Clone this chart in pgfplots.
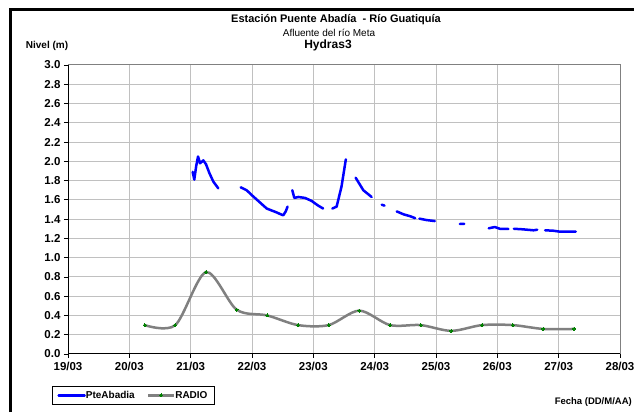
\documentclass[border=0pt]{standalone}
\usepackage{fontspec}
\setmainfont{Liberation Sans}
\usepackage{pgfplots}
\pgfplotsset{compat=1.18}
\definecolor{pteblue}{RGB}{0,0,255}
\definecolor{radiogray}{RGB}{128,128,128}
\definecolor{radiogreen}{RGB}{0,128,0}
\definecolor{gridgray}{RGB}{192,192,192}
\begin{document}
\begin{tikzpicture}[x=1pt,y=1pt]
\useasboundingbox (0,0) rectangle (634,412);
\fill[white] (0,0) rectangle (634,412);
\draw[line width=3pt] (10,0) -- (10,402) -- (634,402);
\node[font=\bfseries\fontsize{11}{13}\selectfont] at (336,392) {Estación Puente Abadía \ - Río Guatiquía};
\node[font=\fontsize{10}{12}\selectfont] at (329,379) {Afluente del río Meta};
\node[font=\bfseries\fontsize{12}{14}\selectfont] at (328,367) {Hydras3};
\node[font=\bfseries\fontsize{10}{12}\selectfont] at (47,366) {Nivel (m)};
\node[font=\bfseries\fontsize{9.5}{11}\selectfont, anchor=east, inner sep=1pt] at (633,10) {Fecha (DD/M/AA)};
\begin{axis}[
  at={(68pt,58pt)}, anchor=south west,
  width=552pt, height=289pt, scale only axis,
  xmin=19, xmax=28, ymin=0, ymax=3,
  xtick={19,...,28},
  xticklabels={19/03,20/03,21/03,22/03,23/03,24/03,25/03,26/03,27/03,28/03},
  ytick={0,0.2,...,3.01},
  yticklabel style={/pgf/number format/.cd, fixed, fixed zerofill, precision=1},
  /pgf/number format/assume math mode=true,
  ticklabel style={font=\bfseries\fontsize{11.5}{13}\selectfont},
  xticklabel style={yshift=-1pt},
  grid=major,
  major grid style={gridgray, line width=1pt},
  axis x line*=bottom, axis y line*=left,
  axis line style={black, line width=1pt},
  tick align=outside, major tick length=4pt,
  every tick/.style={black, line width=0.8pt},
  unbounded coords=jump,
  legend columns=2,
  legend image code/.code={\draw[mark repeat=2,mark phase=2,#1] plot coordinates {(0pt,0pt)(13pt,0pt)(26pt,0pt)};},
  legend style={at={(-0.029,-0.111)}, anchor=north west, draw=black, line width=0.8pt,
    font=\bfseries\fontsize{10}{12}\selectfont, inner xsep=5pt, inner ysep=2.5pt,
    cells={anchor=west},
    /tikz/every odd column/.append style={column sep=-2pt},
    /tikz/every even column/.append style={column sep=10pt}},
  legend image post style={line width=2.5pt},
  clip=false,
]
\draw[radiogray, line width=1pt] (rel axis cs:0,1) -- (rel axis cs:1,1) -- (rel axis cs:1,0);
\addplot[pteblue, line width=2.5pt, line join=round, line cap=round] coordinates {
(21.033,1.89) (21.059,1.81) (21.09,1.95) (21.12,2.05) (21.153,1.98) (21.206,2.01) (21.25,1.97) (21.304,1.88) (21.369,1.79) (21.45,1.72)
(21.6,nan)
(21.816,1.73) (21.85,1.72) (21.913,1.70) (21.995,1.65) (22.10,1.59) (22.17,1.55) (22.24,1.51) (22.32,1.49) (22.40,1.47) (22.47,1.45) (22.51,1.44) (22.55,1.48) (22.58,1.53)
(22.62,nan)
(22.657,1.70) (22.69,1.62) (22.755,1.63) (22.864,1.62) (22.97,1.59) (23.08,1.54) (23.16,1.51)
(23.25,nan)
(23.31,1.51) (23.38,1.53) (23.46,1.74) (23.53,2.02)
(23.6,nan)
(23.69,1.83) (23.815,1.70) (23.95,1.63)
(24.05,nan)
(24.115,1.55) (24.16,1.54)
(24.25,nan)
(24.36,1.48) (24.47,1.45) (24.58,1.43) (24.66,1.41)
(24.7,nan)
(24.73,1.405) (24.85,1.39) (24.98,1.38)
(25.2,nan)
(25.39,1.35) (25.46,1.35)
(25.6,nan)
(25.86,1.305) (25.96,1.318) (26.04,1.30) (26.18,1.298)
(26.22,nan)
(26.27,1.30) (26.42,1.294) (26.59,1.284) (26.65,1.29)
(26.7,nan)
(26.78,1.284) (26.91,1.28) (27.02,1.27) (27.28,1.27)
};
\addlegendentry{PteAbadia}
\addplot[radiogray, line width=2.5pt, smooth, mark=*, mark size=1.5pt,
  mark options={fill=radiogreen, draw=radiogreen, line width=0pt}] coordinates {
(20.25,0.30) (20.75,0.30) (21.25,0.85) (21.75,0.46) (22.25,0.40) (22.75,0.30) (23.25,0.30) (23.75,0.45) (24.25,0.30) (24.75,0.30) (25.25,0.24) (25.75,0.30) (26.25,0.30) (26.75,0.26) (27.25,0.26)
};
\addlegendentry{RADIO}
\end{axis}
\end{tikzpicture}
\end{document}
